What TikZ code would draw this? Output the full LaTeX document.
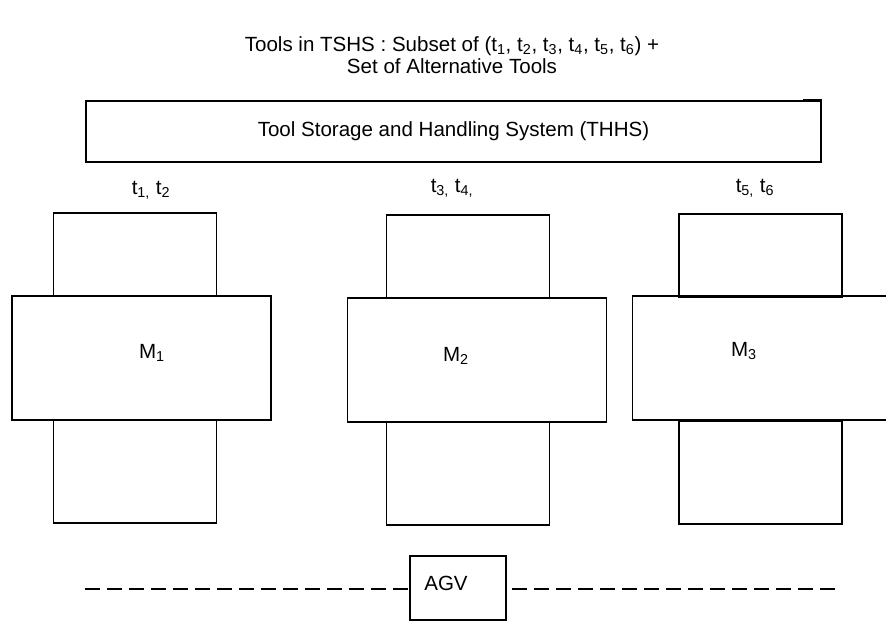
\documentclass[tikz,border=0pt]{standalone}
\usepackage{fontspec}
\setmainfont{Liberation Sans}
\usetikzlibrary{positioning}

\begin{document}
\begin{tikzpicture}[x=0.75pt,y=0.75pt,yscale=-1,xscale=1,
  every node/.style={font=\fontsize{15.4}{16.5}\selectfont},
  box/.style={draw, line width=1.3pt, inner sep=0pt},
  storebox/.style={box, minimum width=551.25pt, minimum height=45.75pt},
  toolbox/.style={box, minimum width=122.25pt, minimum height=62.25pt},
  machbox/.style={box, minimum width=194.25pt, minimum height=93pt},
  lowbox/.style={box, minimum width=122.25pt, minimum height=77.25pt},
  agvbox/.style={box, minimum width=72pt, minimum height=48pt},
  track/.style={line width=1.1pt, dash pattern={on 11.25pt off 5.25pt}}]
\useasboundingbox (0,0) rectangle (886,621);
\clip (0,0) rectangle (886,621);

% Title
\node (title) at (452,55) [align=center] {Tools in TSHS : Subset of (t\textsubscript{1}, t\textsubscript{2}, t\textsubscript{3}, t\textsubscript{4}, t\textsubscript{5}, t\textsubscript{6}) +\\Set of Alternative Tools};

% Tool storage
\node (thhs) at (453.5,131.5) [storebox] {Tool Storage and Handling System (THHS)};
\draw [line width=1.6pt] (803,100) -- (821,100) -- (821,162);

% Machine 1
\node (l1) at (151,190) {t\textsubscript{1,} t\textsubscript{2}};
\node (top1) at (135,254.5) [toolbox] {};
\node (mid1) at (141.5,358) [machbox] {};
\node (bot1) at (135,471.5) [lowbox] {};
\node (m1) at (152,353) {M\textsubscript{1}};

% Machine 2
\node (l2) at (452,188) {t\textsubscript{3,} t\textsubscript{4,}};
\node (top2) at (468,256.5) [toolbox] {};
\node (mid2) at (477,360) [machbox] {};
\node (bot2) at (468,473.5) [lowbox] {};
\node (m2) at (456,356) {M\textsubscript{2}};

% Machine 3
\node (l3) at (755,188) {t\textsubscript{5,} t\textsubscript{6}};
\node (top3) at (760.5,255.5) [toolbox] {};
\node (mid3) at (762,358) [machbox] {};
\node (bot3) at (760.5,472.5) [lowbox] {};
\node (m3) at (744,351) {M\textsubscript{3}};

% AGV track
\node (agv) at (458,588) [agvbox] {};
\node (agvtext) at (446,583) {AGV};
\coordinate (trackL) at (85,589);
\coordinate (trackR) at (836,589);
\draw [track] (trackL) -- (agv.west |- trackL);
\draw [track] ([xshift=3.75pt]agv.east |- trackR) -- (trackR);
\end{tikzpicture}
\end{document}
